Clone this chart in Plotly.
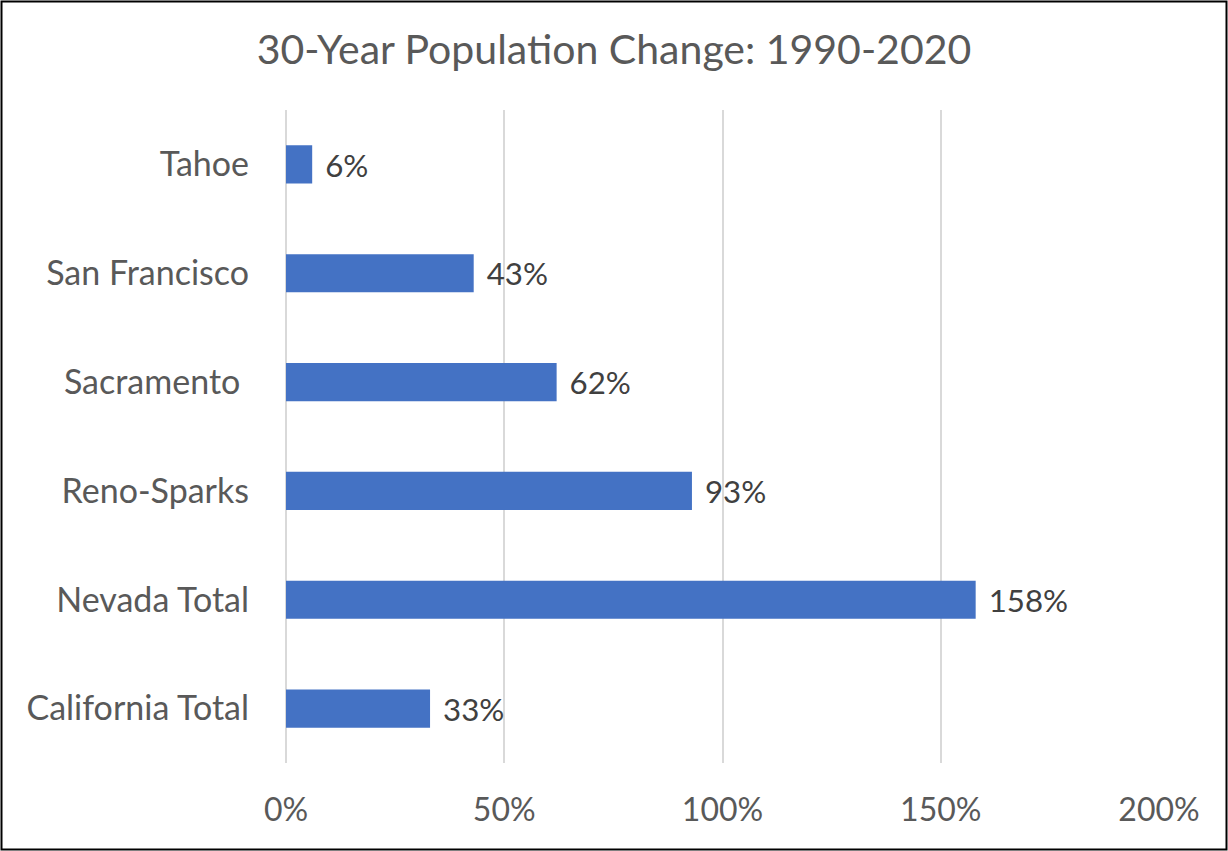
import plotly.graph_objects as go

categories = ["California Total", "Nevada Total", "Reno-Sparks", "Sacramento\u00a0", "San Francisco", "Tahoe"]
values = [0.33, 1.58, 0.93, 0.62, 0.43, 0.06]
tick_vals = [0, 0.5, 1.0, 1.5, 2.0]
tick_text = ["0%", "50%", "100%", "150%", "200%"]

W, H = 1228, 851
ML, MR, MT, MB = 286, 69, 110, 88
PW, PH = W - ML - MR, H - MT - MB

FONT = "Lato"

fig = go.Figure(go.Bar(
    y=categories, x=values, orientation="h",
    marker=dict(color="#4472C4", line=dict(width=0)),
    width=0.35,
    text=[f" \u200a{round(v*100)}%" for v in values],
    textposition="outside", cliponaxis=False,
    textfont=dict(family=FONT, size=32, color="#404040"),
))

def px_x(p):
    return (p - ML) / PW

def px_y(p):
    return (H - MB - p) / PH

fig.add_shape(type="rect", xref="paper", yref="paper",
              x0=px_x(1.5), x1=px_x(W - 1.5), y0=px_y(H - 1.5), y1=px_y(1.5),
              line=dict(color="#000000", width=2), fillcolor="rgba(0,0,0,0)")

fig.update_layout(
    width=W, height=H,
    margin=dict(l=ML, r=MR, t=MT, b=MB, pad=0),
    paper_bgcolor="white", plot_bgcolor="white",
    title=dict(text="30-Year Population Change: 1990-2020", x=0.5, xref="container",
               xanchor="center", y=1 - 50 / H, yanchor="middle",
               font=dict(family=FONT, size=41, color="#595959")),
    showlegend=False,
    xaxis=dict(range=[0, 2.0], tickvals=tick_vals, ticktext=tick_text,
               showgrid=True, gridcolor="#D9D9D9", gridwidth=1.5,
               zeroline=True, zerolinecolor="#D9D9D9", zerolinewidth=1.5,
               showline=False, ticks="", ticklabelstandoff=25,
               tickfont=dict(family=FONT, size=32, color="#595959"), fixedrange=True),
    yaxis=dict(range=[-0.5, 5.5], showgrid=False, zeroline=False, showline=False,
               ticks="", ticklabelstandoff=36,
               tickfont=dict(family=FONT, size=34, color="#595959"), fixedrange=True),
)

fig.write_html("out.html", config={"displayModeBar": False},
               post_script="document.body.style.margin='0';document.body.style.overflow='hidden';")
